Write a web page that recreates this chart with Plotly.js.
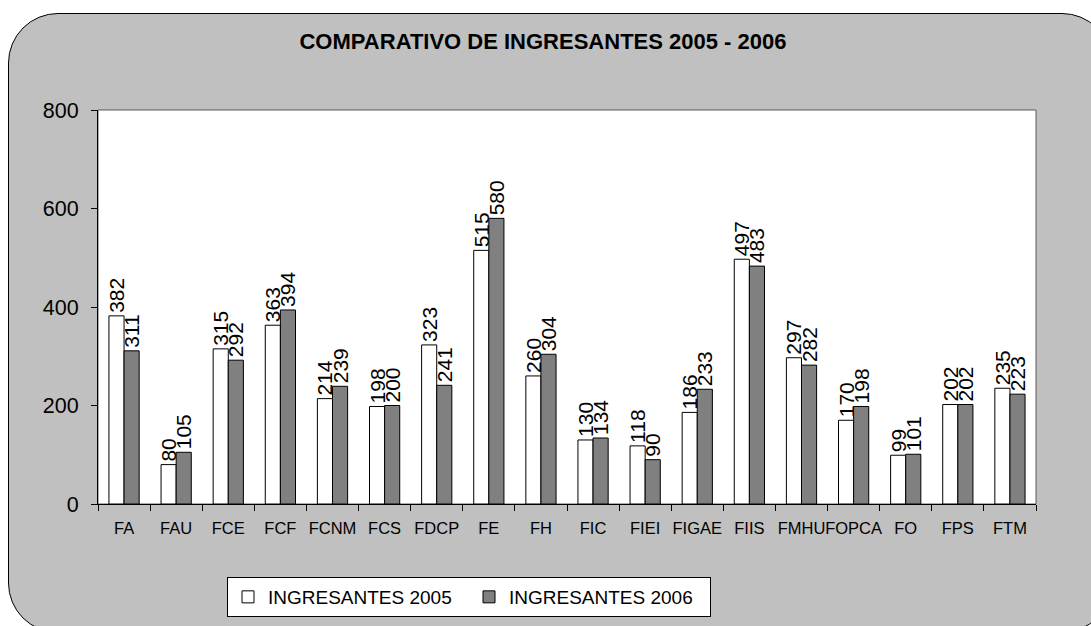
<!DOCTYPE html>
<html>
<head>
<meta charset="utf-8">
<script src="https://cdn.plot.ly/plotly-3.0.1.min.js"></script>
<style>
  html, body { margin: 0; padding: 0; background: #ffffff; overflow: hidden; }
  #frame {
    position: absolute; left: 8px; top: 13px; width: 1104px; height: 620px;
    background: #c0c0c0; border: 1.5px solid #000; border-radius: 50px; box-sizing: border-box;
  }
  #chart { position: absolute; left: 0; top: 0; width: 1091px; height: 626px; }
</style>
</head>
<body>
<div id="frame"></div>
<div id="chart"></div>
<script>
const categories = ["FA","FAU","FCE","FCF","FCNM","FCS","FDCP","FE","FH","FIC","FIEI","FIGAE","FIIS","FMHU","FOPCA","FO","FPS","FTM"];
const ingresantes2005 = [382, 80, 315, 363, 214, 198, 323, 515, 260, 130, 118, 186, 497, 297, 170, 99, 202, 235];
const ingresantes2006 = [311, 105, 292, 394, 239, 200, 241, 580, 304, 134, 90, 233, 483, 282, 198, 101, 202, 223];
const seriesNames = ["INGRESANTES 2005", "INGRESANTES 2006"];
const yTicks = [0, 200, 400, 600, 800];

const FONT = "'Liberation Sans', Arial, sans-serif";

function barTrace(name, vals, fill) {
  return {
    type: 'bar', name: name, x: categories, y: vals,
    text: vals.map(String), textposition: 'outside', textangle: -90,
    constraintext: 'none', cliponaxis: false,
    textfont: {family: FONT, size: 21, color: '#000'},
    marker: {color: fill, line: {color: '#000', width: 1}},
    hoverinfo: 'x+y'
  };
}

const data = [
  barTrace(seriesNames[0], ingresantes2005, '#ffffff'),
  barTrace(seriesNames[1], ingresantes2006, '#808080')
];

const layout = {
  width: 1091, height: 626,
  paper_bgcolor: 'rgba(0,0,0,0)', plot_bgcolor: '#ffffff',
  margin: {l: 98, r: 55, t: 110, b: 122, pad: 0},
  barmode: 'group', bargap: 0.42, bargroupgap: 0,
  showlegend: true,
  font: {family: FONT, color: '#000'},
  title: {
    text: '<b>COMPARATIVO DE INGRESANTES 2005 - 2006</b>',
    font: {family: FONT, size: 22, color: '#000'},
    xref: 'container', yref: 'container', x: 0.4977, xanchor: 'center',
    y: 1 - 41/626, yanchor: 'middle'
  },
  xaxis: {
    type: 'category', showgrid: false, zeroline: false,
    showline: true, linecolor: '#000', linewidth: 1,
    ticks: 'outside', tickson: 'boundaries', ticklen: 6, tickcolor: '#000', tickwidth: 1,
    tickangle: 0,
    tickfont: {family: FONT, size: 16.5, color: '#000'},
    ticklabelstandoff: 9
  },
  yaxis: {
    range: [0, 800], tickvals: yTicks, showgrid: false, zeroline: false,
    showline: true, linecolor: '#000', linewidth: 1,
    ticks: 'outside', ticklen: 6, tickcolor: '#000', tickwidth: 1,
    tickfont: {family: FONT, size: 21.5, color: '#000'},
    ticklabelstandoff: 8
  },
  shapes: [{
    type: 'rect', xref: 'paper', yref: 'paper', x0: 0, x1: 1, y0: 0, y1: 1,
    line: {color: '#5a5a5a', width: 1}, fillcolor: 'rgba(0,0,0,0)', layer: 'below'
  }],
  legend: {
    orientation: 'h', xref: 'container', yref: 'container',
    x: 227/1091, xanchor: 'left', y: 1 - 577/626, yanchor: 'top',
    bgcolor: '#ffffff', bordercolor: '#000', borderwidth: 1,
    font: {family: FONT, size: 19, color: '#000'},
    entrywidth: 196, entrywidthmode: 'pixels', traceorder: 'normal'
  }
};

Plotly.newPlot('chart', data, layout, {displayModeBar: false, staticPlot: true});
</script>
</body>
</html>
